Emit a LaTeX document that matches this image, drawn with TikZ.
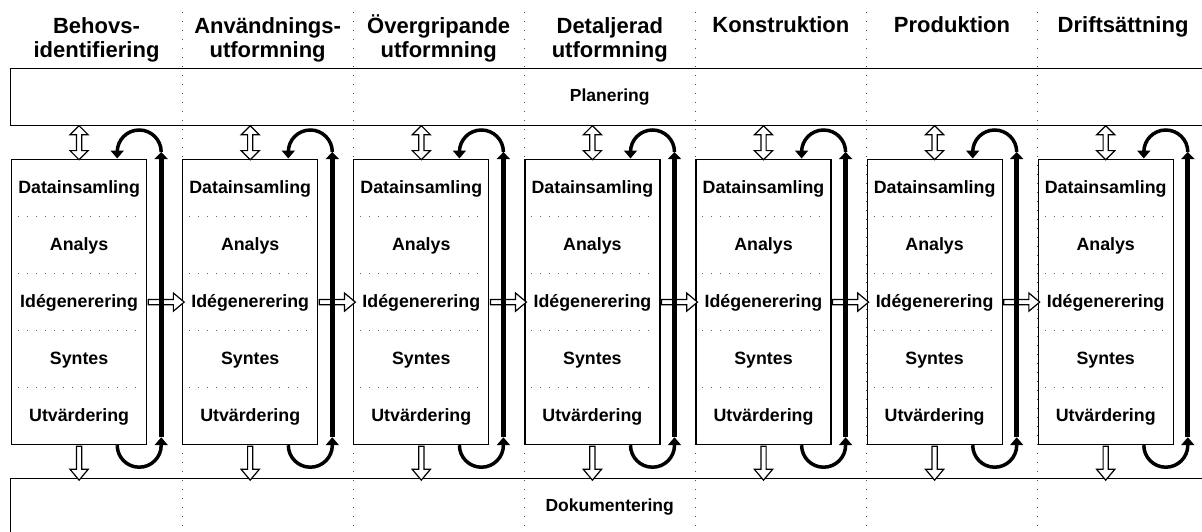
\documentclass[tikz,border=0pt]{standalone}
\usepackage{fontspec}
\setmainfont{Liberation Sans}
\usepackage{tikz}
\usetikzlibrary{shapes,shapes.arrows,arrows.meta,calc,positioning}

\begin{document}
\begin{tikzpicture}[x=1pt,y=-1pt]
	\tikzstyle{phase}=[rectangle,draw,line width=1.2pt,fill=white,minimum width=135pt,minimum height=285pt,inner sep=0pt,anchor=north west]
	\tikzstyle{band}=[rectangle,draw,line width=1.4pt,minimum width=1198pt,minimum height=57pt,inner sep=0pt,anchor=north west,font=\bfseries\fontsize{17.5}{20}\selectfont]
	\tikzstyle{phasehead}=[align=center,anchor=base,inner sep=0pt,font=\bfseries\fontsize{22}{24}\selectfont]
	\tikzstyle{phasetext}=[inner sep=0pt,font=\bfseries\fontsize{17.8}{20}\selectfont]
	\tikzstyle{colsep}=[line width=1.1pt,black!70,dash pattern=on 1.1pt off 7.9pt]
	\tikzstyle{rowsep}=[line width=1pt,black!60,dash pattern=on 1pt off 8pt]
	\tikzstyle{hollow}=[single arrow,draw,line width=1.2pt,fill=white,inner sep=0pt,inner ysep=2pt,single arrow head extend=6.5pt,single arrow tip angle=80]
	\tikzstyle{hollowboth}=[double arrow,draw,line width=1.2pt,fill=white,inner sep=0pt,inner ysep=2pt,double arrow head extend=6.5pt,double arrow tip angle=90,minimum height=34pt,rotate=90]
	\tikzstyle{turn}=[line width=3.5pt,-{Triangle[width=13pt,length=8pt]}]
	\tikzstyle{spine}=[line width=5pt,-{Triangle[width=13pt,length=7pt]}]
	\useasboundingbox (0,0) rectangle (1202,531);
	\clip (0,0) rectangle (1202,531);
	% column separators
	\foreach \i in {1,...,6}
		\draw[colsep] (11+171.1*\i,12) -- (11+171.1*\i,531);
	% headings (base of the last line)
	\foreach \t/\y [count=\i] in {{Behovs-\\identifiering}/57,{Användnings-\\utformning}/57,{Övergripande\\utformning}/57,{Detaljerad\\utformning}/57,Konstruktion/32,Produktion/32,Driftsättning/32}
		\node[phasehead] (hd\i) at (96.5+171.1*\i-171.1,\y) {\t};
	\node[band] (plan) at (10,68) {Planering};
	\node[band] (doc) at (10,478) {Dokumentering};
	% phases
	\foreach \i in {1,...,7}{
		\node[phase] (box\i) at (11+171.1*\i-171.1,159) {};
		\foreach \t [count=\k] in {Datainsamling,Analys,Idégenerering,Syntes,Utvärdering}
			\node[phasetext] (t\i\k) at ($(box\i.north)+(0,57*\k-27)$) {\t};
		\foreach \k in {1,...,4}
			\draw[rowsep] ($(box\i.north west)+(7,57*\k)$) -- ($(box\i.north east)+(-4,57*\k)$);
		\node[hollowboth] (ua\i) at ($(box\i.north)!0.5!(box\i.north |- plan.south)$) {};
		\node[hollow,rotate=-90,minimum height=34pt] (da\i) at ($(box\i.south)!0.5!(box\i.south |- doc.north)$) {};
	}
	\foreach \i [evaluate=\i as \j using int(\i+1)] in {1,...,6}
		\node[hollow,minimum height=36pt] (ha\i) at ($(box\i.east)!0.5!(box\j.west)$) {};
	% iteration loops
	\foreach \i in {1,...,7}{
		\coordinate (lt\i) at ($(box\i.north east)+(14,-7)$);
		\coordinate (lb\i) at ($(box\i.south east)+(14,-8)$);
		\draw[spine] (lb\i) -- (lt\i);
		\draw[turn] (lt\i) arc[start angle=0,end angle=-180,radius=22] -- ++(0,6.5);
		\draw[turn] ($(box\i.south east)+(-30,0)$) arc[start angle=180,end angle=0,radius=22] -- (lb\i);
	}
\end{tikzpicture}
\end{document}
